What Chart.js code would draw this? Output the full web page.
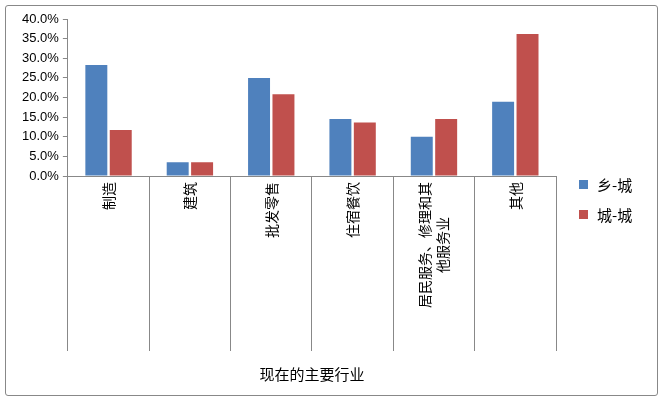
<!DOCTYPE html>
<html><head><meta charset="utf-8">
<script src="https://cdn.jsdelivr.net/npm/chart.js@4"></script>
<style>
body{margin:0;background:#fff}
#wrap{position:absolute;left:5px;top:5px;width:651px;height:389px;border:1px solid #888;border-radius:3px}
canvas{display:block}
</style></head><body>
<div id="wrap"><canvas id="c" width="651" height="389"></canvas></div>
<script>
const categories = ['制造', '建筑', '批发零售', '住宿餐饮', ['居民服务、修理和其', '他服务业'], '其他'];
const ruralUrban = [28.3, 3.5, 25.0, 14.5, 10.0, 18.9];
const urbanUrban = [11.7, 3.5, 20.8, 13.6, 14.5, 36.2];
const seriesNames = ['乡-城', '城-城'];
const seriesColors = ['#4f81bd', '#c0504d'];

const cjk = '"Noto Sans CJK SC", sans-serif';
Chart.defaults.font.family = '"Liberation Sans", sans-serif';
Chart.defaults.font.size = 13;
Chart.defaults.color = '#000';

// category labels, axis title and legend drawn by hand
const labelsPlugin = {
    id: 'labels',
    afterDraw(chart) {
        const ctx = chart.ctx, x = chart.scales.x, area = chart.chartArea;
        ctx.save();
        ctx.fillStyle = '#000';
        ctx.font = '14px ' + cjk;
        ctx.textBaseline = 'middle';
        categories.forEach((lab, i) => {
            const lines = Array.isArray(lab) ? lab : [lab];
            const cx = x.getPixelForValue(i);
            const w1 = ctx.measureText(lines[0]).width;
            lines.forEach((ln, j) => {
                ctx.save();
                ctx.translate(cx + (j - (lines.length - 1) / 2) * 18, area.bottom + 6);
                ctx.rotate(-Math.PI / 2);
                if (j === 0) { ctx.textAlign = 'right'; ctx.fillText(ln, 0, 0); }
                else { ctx.textAlign = 'center'; ctx.fillText(ln, -w1 / 2, 0); }
                ctx.restore();
            });
        });
        ctx.textAlign = 'center';
        ctx.font = '15px ' + cjk;
        ctx.fillText('现在的主要行业', (area.left + area.right) / 2, 368);
        ctx.textAlign = 'left';
        ctx.font = '15px ' + cjk;
        seriesNames.forEach((n, i) => {
            ctx.fillStyle = seriesColors[i];
            ctx.fillRect(573, 174 + i * 30, 9, 9);
            ctx.fillStyle = '#000';
            ctx.fillText(n, 591, 179 + i * 30);
        });
        ctx.restore();
    }
};

new Chart(document.getElementById('c').getContext('2d'), {
    type: 'bar',
    data: {
        labels: categories,
        datasets: [
            { label: seriesNames[0], data: ruralUrban, backgroundColor: seriesColors[0], barPercentage: 0.9, categoryPercentage: 0.6 },
            { label: seriesNames[1], data: urbanUrban, backgroundColor: seriesColors[1], barPercentage: 0.9, categoryPercentage: 0.6 }
        ]
    },
    options: {
        responsive: false,
        animation: false,
        layout: { padding: { top: 13, right: 101, bottom: 6, left: 12 } },
        plugins: { legend: { display: false }, tooltip: { enabled: false } },
        scales: {
            y: {
                min: 0, max: 40,
                ticks: { stepSize: 5, callback: v => v.toFixed(1) + '%', padding: 4 },
                grid: { drawOnChartArea: false, tickLength: 5, color: '#888' },
                border: { color: '#888' }
            },
            x: {
                ticks: { display: false },
                grid: { offset: true, drawOnChartArea: false, tickLength: 175, color: '#888' },
                border: { color: '#888' },
                afterFit: s => { s.height = 213; }
            }
        }
    },
    plugins: [labelsPlugin]
});
</script>
</body></html>
